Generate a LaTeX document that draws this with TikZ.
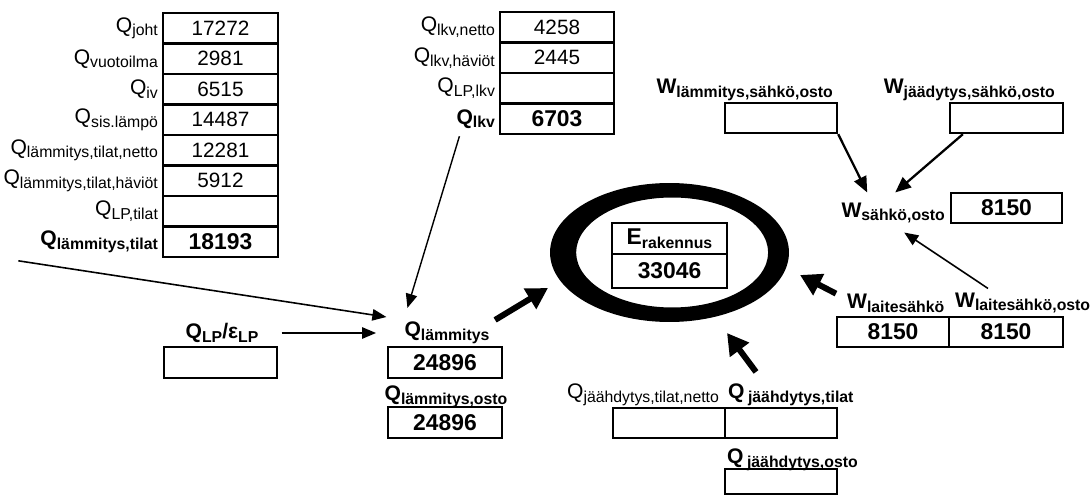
\documentclass[tikz,border=0pt]{standalone}
\usepackage{fontspec}
\setmainfont{Liberation Sans}
\usetikzlibrary{arrows.meta}

% label with a lowered, smaller index
\newcommand{\sub}[2]{#1\raisebox{-0.35ex}{\fontsize{9}{10}\selectfont #2}}

\begin{document}
\begin{tikzpicture}[x=0.02cm, y=-0.02cm,
        cell/.style={draw, line width=1.4pt, minimum width=2.26cm, minimum height=0.6cm,
            inner sep=0pt, font=\fontsize{11.8}{12}\selectfont},
        bcell/.style={cell, font=\fontsize{13}{13}\selectfont\bfseries},
        lab/.style={inner sep=1pt, font=\fontsize{12}{13}\selectfont},
        blab/.style={lab, font=\fontsize{12}{13}\selectfont\bfseries},
        arrthin/.style={line width=0.9pt, -{Triangle[length=8pt, width=6.5pt]}},
        arrmid/.style={line width=1.3pt, -{Triangle[length=9pt, width=7.5pt]}},
        arrfat/.style={line width=3.4pt, -{Triangle[length=12pt, width=13pt]}}]
    \useasboundingbox (0,0) rectangle (1092,496);

    % left table
    \node[lab, anchor=east] (lq1) at (160,28.25) {\sub{Q}{joht}};
    \node[lab, anchor=east] (lq2) at (160,58.75) {\sub{Q}{vuotoilma}};
    \node[lab, anchor=east] (lq3) at (160,89.25) {\sub{Q}{iv}};
    \node[lab, anchor=east] (lq4) at (160,119.75) {\sub{Q}{sis.lämpö}};
    \node[lab, anchor=east] (lq5) at (160,150.25) {\sub{Q}{lämmitys,tilat,netto}};
    \node[lab, anchor=east] (lq6) at (160,180.75) {\sub{Q}{lämmitys,tilat,häviöt}};
    \node[lab, anchor=east] (lq7) at (160,211.25) {\sub{Q}{LP,tilat}};
    \node[blab, anchor=east] (lq8) at (160,241.75) {\sub{Q}{lämmitys,tilat}};
    \node[cell, minimum width=2.3cm, minimum height=0.61cm] (lv1) at (220.5,28.25) {17272};
    \node[cell, minimum width=2.3cm, minimum height=0.61cm] (lv2) at (220.5,58.75) {2981};
    \node[cell, minimum width=2.3cm, minimum height=0.61cm] (lv3) at (220.5,89.25) {6515};
    \node[cell, minimum width=2.3cm, minimum height=0.61cm] (lv4) at (220.5,119.75) {14487};
    \node[cell, minimum width=2.3cm, minimum height=0.61cm] (lv5) at (220.5,150.25) {12281};
    \node[cell, minimum width=2.3cm, minimum height=0.61cm] (lv6) at (220.5,180.75) {5912};
    \node[cell, minimum width=2.3cm, minimum height=0.61cm] (lv7) at (220.5,211.25) {};
    \node[bcell, minimum width=2.3cm, minimum height=0.61cm] (lv8) at (220.5,241.75) {18193};

    % middle table
    \node[lab, anchor=east] (mq1) at (497,27.25) {\sub{Q}{lkv,netto}};
    \node[lab, anchor=east] (mq2) at (497,57.75) {\sub{Q}{lkv,häviöt}};
    \node[lab, anchor=east] (mq3) at (497,88.25) {\sub{Q}{LP,lkv}};
    \node[blab, anchor=east] (mq4) at (497,118.75) {\sub{Q}{lkv}};
    \node[cell, minimum width=2.28cm, minimum height=0.61cm] (mv1) at (557,27.25) {4258};
    \node[cell, minimum width=2.28cm, minimum height=0.61cm] (mv2) at (557,57.75) {2445};
    \node[cell, minimum width=2.28cm, minimum height=0.61cm] (mv3) at (557,88.25) {};
    \node[bcell, minimum width=2.28cm, minimum height=0.61cm] (mv4) at (557,118.75) {6703};

    % heat pump and heating
    \node[blab] (qlp) at (222,333) {\sub{Q}{LP}/\sub{ε}{LP}};
    \node[cell, minimum height=0.62cm] (qlpv) at (220.5,362.5) {};
    \node[blab] (qlam) at (447,333) {\sub{Q}{lämmitys}};
    \node[bcell, minimum width=2.28cm, minimum height=0.62cm] (qlamv) at (445,362.5) {24896};
    \node[blab] (qlamo) at (446,397) {\sub{Q}{lämmitys,osto}};
    \node[bcell, minimum width=2.28cm, minimum height=0.62cm] (qlamov) at (445,422.5) {24896};

    % building energy
    \coordinate (ring) at (669.5,252.5);
    \fill[even odd rule] (ring) ellipse [x radius=2.39cm, y radius=1.39cm]
        ([xshift=1.5]ring) ellipse [x radius=1.92cm, y radius=1.1cm];
    \node[bcell, minimum width=2.3cm, minimum height=0.62cm] (erak) at (669.5,238.5) {\sub{E}{rakennus}};
    \node[bcell, minimum width=2.3cm, minimum height=0.68cm] (erakv) at (669.5,271) {33046};

    % electricity
    \node[blab, anchor=east] (wlam) at (835,90) {\sub{W}{lämmitys,sähkö,osto}};
    \node[cell, minimum width=2.24cm] (wlamv) at (781,118) {};
    \node[blab, anchor=east] (wjaa) at (1057,90) {\sub{W}{jäädytys,sähkö,osto}};
    \node[cell] (wjaav) at (1006.5,118) {};
    \node[blab, anchor=east] (wsah) at (947,213) {\sub{W}{sähkö,osto}};
    \node[bcell, minimum width=2.22cm] (wsahv) at (1006.5,208) {8150};
    \node[blab, anchor=west] (wlai) at (845,303) {\sub{W}{laitesähkö}};
    \node[blab, anchor=west] (wlaio) at (953,303) {\sub{W}{laitesähkö,osto}};
    \node[bcell, minimum width=2.24cm] (wlaiv) at (893,332) {8150};
    \node[bcell, minimum width=2.28cm] (wlaiov) at (1006,332) {8150};

    % cooling
    \node[lab, anchor=east] (qjn) at (721,395) {\sub{Q}{jäähdytys,tilat,netto}};
    \node[blab, anchor=west] (qjt) at (726,395) {\sub{Q\,}{jäähdytys,tilat}};
    \node[cell, minimum width=2.24cm] (qjnv) at (669,423) {};
    \node[cell, minimum width=2.24cm] (qjtv) at (781,423) {};
    \node[blab, anchor=west] (qjo) at (725,460) {\sub{Q\,}{jäähdytys,osto}};
    \node[cell, minimum width=2.24cm, minimum height=0.5cm] (qjov) at (781,481.5) {};

    % connectors
    \draw[arrthin] ([shift={(-20,6)}]lq8.south west) -- ([shift={(-16,-16)}]qlam.west);
    \draw[arrthin] ([xshift=12]qlp.east) -- ([xshift=-15]qlam.west);
    \draw[arrthin, line width=0.8pt] ([shift={(5,6)}]mq4.south west) -- ([shift={(5,-12)}]qlam.north west);
    \draw[arrfat] ([xshift=2]qlam.north east) -- ([shift={(-121.5,35.5)}]ring);
    \draw[arrfat] ([shift={(30,-10)}]qjt.north west) -- ([shift={(57.5,80.5)}]ring);
    \draw[arrfat] ([shift={(-9,2)}]wlai.north west) -- ([shift={(130.5,22.5)}]ring);
    \draw[arrmid] (wlamv.south east) -- ([shift={(-26,-8)}]wsah.north);
    \draw[arrmid] ([xshift=8]wjaav.south west) -- ([shift={(2,-8)}]wsah.north);
    \draw[arrthin] ([shift={(35,-2)}]wlaio.north west) -- ([shift={(11,7)}]wsah.south);
\end{tikzpicture}
\end{document}
